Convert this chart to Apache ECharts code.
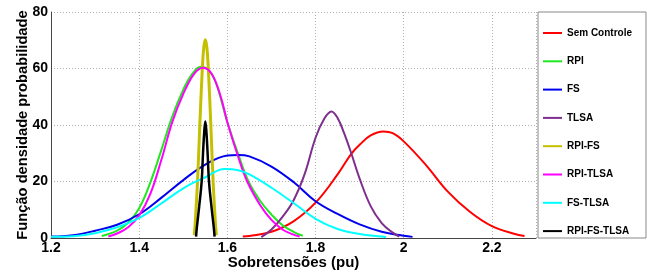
<!DOCTYPE html>
<html>
<head>
<meta charset="utf-8">
<script src="https://cdn.jsdelivr.net/npm/echarts@6.0.0/dist/echarts.min.js"></script>
<style>
  html, body { margin: 0; padding: 0; background: #fff; }
  #chart { width: 647px; height: 277px; }
</style>
</head>
<body>
<div id="chart"></div>
<script>
  // valores: [sobretensão (pu), densidade]
  var semControle = [[1.635,0.5],[1.65,0.7],[1.7,2.2],[1.75,5.9],[1.8,12.5],[1.85,22.5],[1.881,29.8],[1.9,33],[1.925,36.3],[1.954,37.7],[1.975,37.1],[2.0,34.2],[2.05,25.9],[2.1,16.4],[2.15,9.3],[2.2,4.2],[2.25,1.5],[2.274,0.7]];
  var rpi = [[1.315,0.7],[1.35,2.6],[1.375,5.4],[1.4,10.5],[1.425,19.5],[1.45,31],[1.475,43],[1.5,52.5],[1.52,58],[1.54,60.6],[1.56,59],[1.575,54.5],[1.6,41],[1.625,29.5],[1.648,20],[1.675,13],[1.7,8.3],[1.725,4.5],[1.75,2.2],[1.771,0.8]];
  var fs = [[1.2,0.5],[1.25,1.0],[1.3,2.6],[1.35,4.7],[1.4,8.4],[1.45,14.2],[1.5,20.5],[1.55,26],[1.6,29.2],[1.625,29.4],[1.65,28.9],[1.7,25.3],[1.75,19.8],[1.8,13],[1.85,8.5],[1.9,4.8],[1.95,2.2],[2.0,0.8],[2.02,0.4]];
  var tlsa = [[1.677,0.3],[1.7,3],[1.725,7.5],[1.75,13.3],[1.775,22.5],[1.8,35.5],[1.82,42.3],[1.836,44.8],[1.85,42.5],[1.865,37],[1.881,30],[1.9,21],[1.925,11.3],[1.95,5.3],[1.975,1.9],[1.99,0.5]];
  var rpiFs = [[1.525,1],[1.527,5],[1.5323,20],[1.5375,40],[1.5432,60],[1.5465,67.5],[1.55,70.2],[1.5535,67.5],[1.5568,60],[1.5625,40],[1.5677,20],[1.573,5],[1.575,1]];
  var rpiTlsa = [[1.33,0.5],[1.35,1.6],[1.375,3.8],[1.4,8],[1.425,15.5],[1.45,27.5],[1.475,41],[1.5,51],[1.525,58.2],[1.545,60.3],[1.565,58],[1.585,50],[1.6,41],[1.625,28.5],[1.645,20],[1.675,11.5],[1.7,6.4],[1.725,3],[1.75,1.2],[1.764,0.5]];
  var fsTlsa = [[1.2,0.4],[1.25,0.6],[1.3,1.7],[1.35,3.8],[1.4,7.1],[1.45,12.2],[1.5,17.6],[1.55,21.5],[1.594,24.4],[1.625,24],[1.65,22.5],[1.7,17.8],[1.75,12.4],[1.8,6.8],[1.85,3.2],[1.9,1.4],[1.95,0.5],[1.96,0.3]];
  var rpiFsTlsa = [[1.529,0.5],[1.531,4],[1.536,11],[1.5417,20],[1.5448,30],[1.5475,37.5],[1.55,41.2],[1.5525,37.5],[1.5552,30],[1.5583,20],[1.564,11],[1.569,4],[1.571,0.5]];

  var nomes = ['Sem Controle', 'RPI', 'FS', 'TLSA', 'RPI-FS', 'RPI-TLSA', 'FS-TLSA', 'RPI-FS-TLSA'];
  var dados = [semControle, rpi, fs, tlsa, rpiFs, rpiTlsa, fsTlsa, rpiFsTlsa];
  var cores = ['#ff0000', '#1fe81f', '#0000ee', '#7e2f8e', '#c4c000', '#ff00ff', '#00ffff', '#000000'];
  var larguras = [2, 2, 2, 2, 3, 2, 2, 2.5];

  var fonte = 'Liberation Sans';

  var myChart = echarts.init(document.getElementById('chart'));

  var series = nomes.map(function (nome, i) {
    return {
      name: nome,
      type: 'line',
      data: dados[i],
      smooth: 0.4,
      symbol: 'none',
      lineStyle: { color: cores[i], width: larguras[i] },
      itemStyle: { color: cores[i] }
    };
  });

  var option = {
    animation: false,
    backgroundColor: '#fff',
    grid: { left: 51, right: 111, top: 12, bottom: 39 },
    graphic: [
      {
        type: 'rect',
        shape: { x: 538, y: 12, width: 108, height: 226 },
        style: { fill: '#fff', stroke: '#888', lineWidth: 1 },
        z: 10
      }
    ],
    legend: {
      data: nomes,
      orient: 'vertical',
      left: 542,
      top: 28,
      itemWidth: 19,
      itemHeight: 12,
      itemGap: 18.3,
      padding: 0,
      z: 20,
      itemStyle: { opacity: 0 },
      lineStyle: { width: 2 },
      textStyle: { fontFamily: fonte, fontWeight: 'bold', fontSize: 10, color: '#000' }
    },
    xAxis: {
      type: 'value',
      min: 1.2,
      max: 2.3,
      interval: 0.2,
      name: 'Sobretensões (pu)',
      nameLocation: 'middle',
      nameGap: 17,
      nameMoveOverlap: false,
      nameTextStyle: { fontFamily: fonte, fontWeight: 'bold', fontSize: 15, color: '#000' },
      axisLine: { lineStyle: { color: '#444', width: 1 } },
      axisTick: { show: false },
      axisLabel: { margin: 3, showMaxLabel: false, fontFamily: fonte, fontWeight: 'bold', fontSize: 14, color: '#000' },
      splitLine: { show: true, lineStyle: { color: '#b0b0b0', type: [1, 2], width: 1 } }
    },
    yAxis: {
      type: 'value',
      min: 0,
      max: 80,
      interval: 20,
      name: 'Função densidade probabilidade',
      nameLocation: 'middle',
      nameGap: 21,
      nameMoveOverlap: false,
      nameTextStyle: { fontFamily: fonte, fontWeight: 'bold', fontSize: 14.7, color: '#000' },
      axisLine: { show: true, lineStyle: { color: '#444', width: 1 } },
      axisTick: { show: false },
      axisLabel: { margin: 3, fontFamily: fonte, fontWeight: 'bold', fontSize: 14, color: '#000' },
      splitLine: { show: true, lineStyle: { color: '#b0b0b0', type: [1, 2], width: 1 } }
    },
    series: series
  };

  myChart.setOption(option);
</script>
</body>
</html>
